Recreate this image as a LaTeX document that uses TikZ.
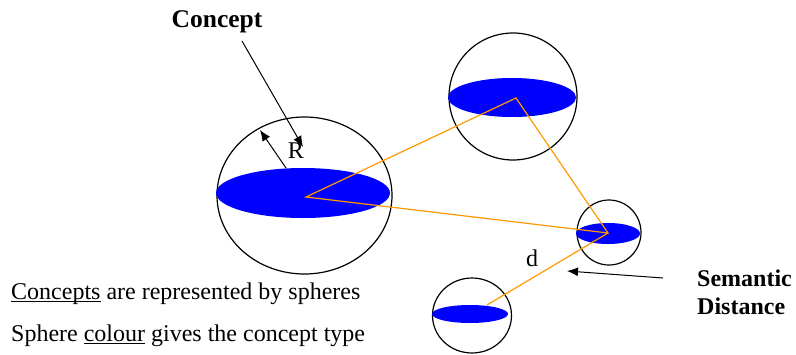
\documentclass[tikz,border=0pt]{standalone}
\usepackage{fontspec}
\setmainfont{Liberation Serif}
\usetikzlibrary{arrows.meta}
\definecolor{spblue}{RGB}{0,0,255}
\definecolor{linkor}{RGB}{255,153,0}
\newcommand\myul[1]{\setbox0\hbox{#1}\rlap{\rule[-2.6pt]{\wd0}{0.9pt}}#1}
\tikzset{
  sphere/.style={draw=black,line width=1.2pt},
  disc/.style={fill=spblue},
  link/.style={draw=linkor,line width=1.2pt},
  pointer/.style={draw=black,line width=1pt,-{Latex[length=11pt,width=9pt]}},
  lbl/.style={inner sep=0pt,anchor=base,font=\fontsize{24}{27}\selectfont},
  blbl/.style={lbl,font=\fontsize{24}{27}\selectfont\bfseries}
}
\begin{document}
\begin{tikzpicture}[x=1pt,y=-1pt]
\useasboundingbox (0,0) rectangle (796,354);
% spheres
\draw[sphere] (304.5,195.5) ellipse [x radius=87.5,y radius=78.5];
\draw[sphere] (513,96.5) ellipse [x radius=64,y radius=63.5];
\draw[sphere] (609,232.5) ellipse [x radius=32,y radius=32.5];
\draw[sphere] (472,315.5) ellipse [x radius=39.5,y radius=37.5];
% discs
\fill[disc] (303,193) ellipse [x radius=87,y radius=25];
\fill[disc] (512,97.5) ellipse [x radius=64,y radius=19.5];
\fill[disc] (608,233.5) ellipse [x radius=32,y radius=10.5];
\fill[disc] (470,314) ellipse [x radius=38,y radius=9];
% link points
\coordinate (c1) at (306,197);
\coordinate (c2) at (516,98);
\coordinate (c3) at (608,233);
\coordinate (c4) at (487,305);
\draw[link] (c1) -- (c2) -- (c3) -- cycle;
\draw[link] (c3) -- (c4);
% labels
\node[blbl,font=\fontsize{25.5}{28}\selectfont\bfseries] (concept) at (217,27) {Concept};
\node[lbl] (R) at (296,158) {R};
\node[lbl] (d) at (532,266) {d};
\node[blbl,anchor=base west] (sem) at (697,286.5) {Semantic};
\node[blbl,anchor=base west] (dist) at (697,314) {Distance};
\node[lbl,anchor=base west] (t1) at (11,299) {\myul{Concepts} are represented by spheres};
\node[lbl,anchor=base west] (t2) at (11,341.5) {Sphere \myul{colour} gives the concept type};
% pointers
\coordinate (a1s) at (242,41);
\coordinate (a1e) at (303,147);
\coordinate (a2s) at (286,168);
\coordinate (a2e) at (260,130);
\coordinate (a3s) at (663,278);
\coordinate (a3e) at (567,271);
\draw[pointer] (a1s) -- (a1e);
\draw[pointer] (a2s) -- (a2e);
\draw[pointer] (a3s) -- (a3e);
\end{tikzpicture}
\end{document}
